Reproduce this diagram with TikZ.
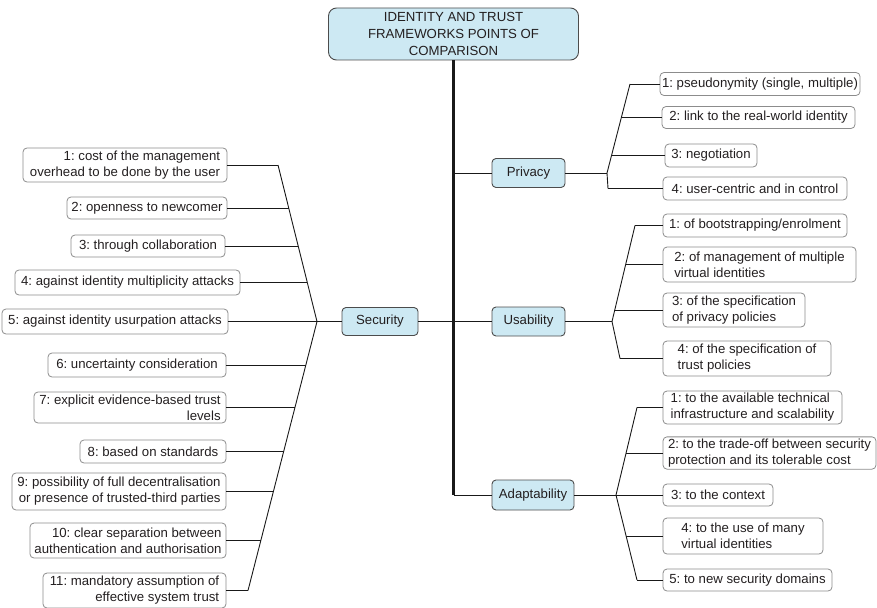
\documentclass[tikz,border=0pt]{standalone}
\usepackage{fontspec}
\setmainfont{Liberation Sans}
\frenchspacing
\definecolor{topicblue}{HTML}{CDE9F3}
\definecolor{inkgray}{HTML}{231F20}
\tikzset{
  every node/.style={font=\fontsize{13.2}{16}\selectfont, text=inkgray},
  sz/.style 2 args={minimum width=#1pt, minimum height=#2pt},
  topic/.style={draw=black!70, fill=topicblue, rounded corners=4pt, line width=0.9pt, inner sep=2pt, outer sep=0pt},
  rootbox/.style={topic, rounded corners=8pt, align=center, font=\fontsize{13.2}{17}\selectfont},
  leaf/.style={draw=black!45, rounded corners=4pt, line width=0.8pt, inner sep=2pt, outer sep=0pt},
  leafL/.style={leaf, align=left},
  leafR/.style={leaf, align=right},
  link/.style={draw=black!90, line width=0.9pt, line join=round},
  trunk/.style={draw=black!90, line width=2.4pt},
}
\begin{document}
\begin{tikzpicture}[x=1pt, y=-1pt]
\useasboundingbox (0,0) rectangle (877,607);

% root and the four main topics
\node[rootbox, sz={250}{52}] (root) at (453.5,34) {IDENTITY AND TRUST\\FRAMEWORKS POINTS OF\\COMPARISON};
\node[topic, sz={73}{29}] (priv) at (528.5,173) {Privacy};
\node[topic, sz={73}{29}] (usab) at (528.5,321.5) {Usability};
\node[topic, sz={82}{30}] (adap) at (533,495) {Adaptability};
\node[topic, sz={76}{28}] (secu) at (380,321.5) {Security};

% trunk and its branches
\coordinate (tp) at (root.south |- priv);
\coordinate (tu) at (root.south |- usab);
\coordinate (ta) at (root.south |- adap);
\draw[trunk] (root.south) -- (ta);
\draw[link] (tp) -- (priv.west);
\draw[link] (tu) -- (usab.west);
\draw[link] (ta) -- (adap.west);
\draw[link] (secu.east) -- (tu);

% Privacy leaves
\node[leaf, sz={200}{23}] (p1) at (760,84) {1: pseudonymity (single, multiple)};
\node[leaf, sz={193}{22}] (p2) at (758.5,117.5) {2: link to the real-world identity};
\node[leaf, sz={92}{23}] (p3) at (711,155.5) {3: negotiation};
\node[leaf, sz={184}{23}] (p4) at (755,188.5) {4: user-centric and in control};
\coordinate (jp) at (607,173);
\coordinate (bp1) at (630,84);
\coordinate (bp2) at (621.3,117.5);
\coordinate (bp3) at (611.5,155.5);
\coordinate (bp4) at (608,188.5);
\draw[link] (priv.east) -- (jp);
\draw[link] (bp1) -- (jp) -- (bp4);
\foreach \i in {1,...,4} \draw[link] (bp\i) -- (p\i.west);

% Usability leaves
\node[leaf, sz={184}{23}] (u1) at (755,225.5) {1: of bootstrapping/enrolment};
\node[leafL, sz={193}{35}] (u2) at (759.5,264.5) {2: of management of multiple\\virtual identities};
\node[leafL, sz={142}{34}] (u3) at (734,310) {3: of the specification\\of privacy policies};
\node[leafL, sz={168}{35}] (u4) at (747,358.5) {4: of the specification of\\trust policies};
\coordinate (ju) at (612,321.5);
\coordinate (bu1) at (635,225.5);
\coordinate (bu2) at (625.6,264.5);
\coordinate (bu3) at (614.6,310);
\coordinate (bu4) at (620,358.5);
\draw[link] (usab.east) -- (ju);
\draw[link] (bu1) -- (ju) -- (bu4);
\foreach \i in {1,...,4} \draw[link] (bu\i) -- (u\i.west);

% Adaptability leaves
\node[leafL, sz={179}{33}] (a1) at (752.5,407.5) {1: to the available technical\\infrastructure and scalability};
\node[leafL, sz={213}{32}] (a2) at (769.5,453) {2: to the trade-off between security\\protection and its tolerable cost};
\node[leaf, sz={110}{22}] (a3) at (718,495) {3: to the context};
\node[leafL, sz={160}{36}] (a4) at (743,536) {4: to the use of many\\virtual identities};
\node[leaf, sz={169}{22}] (a5) at (747.5,580) {5: to new security domains};
\coordinate (ja) at (616,495);
\coordinate (ba1) at (637,407.5);
\coordinate (ba2) at (626.2,453);
\coordinate (ba3) at (616,495);
\coordinate (ba4) at (626.1,536);
\coordinate (ba5) at (637,580);
\draw[link] (adap.east) -- (ja);
\draw[link] (ba1) -- (ja) -- (ba5);
\foreach \i in {1,...,5} \draw[link] (ba\i) -- (a\i.west);

% Security leaves
\node[leafR, sz={204}{34}] (s1) at (125,165) {1: cost of the management\\overhead to be done by the user};
\node[leaf, sz={160}{22}] (s2) at (147,208) {2: openness to newcomer};
\node[leaf, sz={154}{22}] (s3) at (148,246) {3: through collaboration};
\node[leaf, sz={225}{25}] (s4) at (127.5,282.5) {4: against identity multiplicity attacks};
\node[leaf, sz={226}{25}] (s5) at (115,321.5) {5: against identity usurpation attacks};
\node[leaf, sz={178}{24}] (s6) at (137,365) {6: uncertainty consideration};
\node[leafR, sz={192}{31}] (s7) at (130,407.5) {7: explicit evidence-based trust\\levels};
\node[leaf, sz={146}{23}] (s8) at (153,451.5) {8: based on standards};
\node[leafR, sz={214}{37}] (s9) at (119,491.5) {9: possibility of full decentralisation\\or presence of trusted-third parties};
\node[leafR, sz={196}{35}] (s10) at (128,540.5) {10: clear separation between\\authentication and authorisation};
\node[leafR, sz={183}{35}] (s11) at (134.5,590.5) {11: mandatory assumption of\\effective system trust};
\coordinate (js) at (317,321.5);
\coordinate (bs1) at (278,165);
\coordinate (bs2) at (288.7,208);
\coordinate (bs3) at (298.1,246);
\coordinate (bs4) at (307.2,282.5);
\coordinate (bs5) at (317,321.5);
\coordinate (bs6) at (306,365);
\coordinate (bs7) at (295,407.5);
\coordinate (bs8) at (283.7,451.5);
\coordinate (bs9) at (273.4,491.5);
\coordinate (bs10) at (260.8,540.5);
\coordinate (bs11) at (248,590.5);
\draw[link] (secu.west) -- (js);
\draw[link] (bs1) -- (js) -- (bs11);
\foreach \i in {1,...,11} \draw[link] (s\i.east) -- (bs\i);
\end{tikzpicture}
\end{document}
